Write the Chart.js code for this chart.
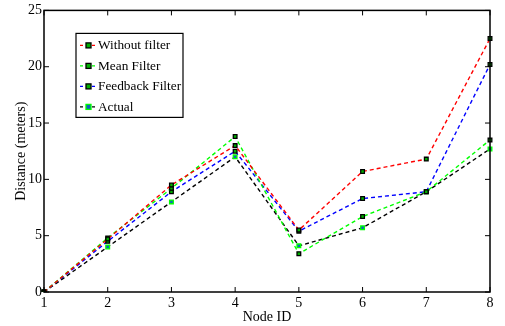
<!DOCTYPE html>
<html>
<head>
<meta charset="utf-8">
<script src="https://cdn.jsdelivr.net/npm/chart.js@4.4.0/dist/chart.umd.min.js"></script>
<style>
    html, body { margin: 0; padding: 0; background: #fff; }
    #wrap { width: 505px; height: 326px; }
</style>
</head>
<body>
<div id="wrap"><canvas id="chart"></canvas></div>
<script>
const nodeIds = ['1', '2', '3', '4', '5', '6', '7', '8'];
const withoutFilter = [0, 4.7, 9.5, 13.0, 5.5, 10.7, 11.8, 22.5];
const meanFilter = [0, 4.8, 9.2, 13.8, 3.4, 6.7, 8.9, 13.5];
const feedbackFilter = [0, 4.5, 8.9, 12.5, 5.4, 8.3, 8.9, 20.2];
const actual = [0, 4.0, 8.0, 12.0, 4.1, 5.7, 8.9, 12.7];
const yTicks = [0, 5, 10, 15, 20, 25];

const serif = 'Liberation Serif';

function makeSet(label, data, color, markerEdge, markerFill) {
    return {
        label: label,
        data: data,
        borderColor: color,
        borderWidth: 1.4,
        borderDash: [4, 3],
        pointStyle: 'rect',
        pointRadius: 2.6,
        pointBorderWidth: 1.3,
        pointBorderColor: markerEdge,
        pointBackgroundColor: markerFill,
        tension: 0,
        fill: false
    };
}

// frame, inward ticks and legend box like the matlab figure
const framePlugin = {
    id: 'frame',
    afterDatasetsDraw(chart) {
        const ctx = chart.ctx;
        const a = chart.chartArea;
        const xs = chart.scales.x;
        const ys = chart.scales.y;
        ctx.save();
        ctx.strokeStyle = '#000';
        ctx.lineWidth = 1.5;
        ctx.setLineDash([]);
        ctx.strokeRect(a.left, a.top, a.right - a.left, a.bottom - a.top);
        ctx.lineWidth = 1;
        const tl = 5;
        nodeIds.forEach((n, i) => {
            const x = xs.getPixelForValue(i);
            ctx.beginPath();
            ctx.moveTo(x, a.bottom); ctx.lineTo(x, a.bottom - tl);
            ctx.moveTo(x, a.top); ctx.lineTo(x, a.top + tl);
            ctx.stroke();
        });
        yTicks.forEach(v => {
            const y = ys.getPixelForValue(v);
            ctx.beginPath();
            ctx.moveTo(a.left, y); ctx.lineTo(a.left + tl, y);
            ctx.moveTo(a.right, y); ctx.lineTo(a.right - tl, y);
            ctx.stroke();
        });

        // legend
        const bx = a.left + 32, by = a.top + 23, bw = 107, bh = 84;
        ctx.fillStyle = '#fff';
        ctx.fillRect(bx, by, bw, bh);
        ctx.strokeStyle = '#000';
        ctx.lineWidth = 1.2;
        ctx.strokeRect(bx, by, bw, bh);
        ctx.font = '13.3px "' + serif + '"';
        ctx.textBaseline = 'middle';
        chart.data.datasets.forEach((ds, i) => {
            const y = by + 12 + i * 20.5;
            ctx.strokeStyle = ds.borderColor;
            ctx.lineWidth = 1.4;
            ctx.setLineDash([3, 3]);
            ctx.beginPath();
            ctx.moveTo(bx + 4, y); ctx.lineTo(bx + 21, y);
            ctx.stroke();
            ctx.setLineDash([]);
            ctx.fillStyle = ds.pointBackgroundColor;
            ctx.strokeStyle = ds.pointBorderColor;
            ctx.lineWidth = 1.3;
            ctx.fillRect(bx + 10, y - 2.5, 5, 5);
            ctx.strokeRect(bx + 10, y - 2.5, 5, 5);
            ctx.fillStyle = '#000';
            ctx.fillText(ds.label, bx + 22, y + 0.5);
        });
        ctx.restore();
    }
};

new Chart(document.getElementById('chart'), {
    type: 'line',
    data: {
        labels: nodeIds,
        datasets: [
            makeSet('Without filter', withoutFilter, '#ff0000', '#000', '#00b000'),
            makeSet('Mean Filter', meanFilter, '#00ff00', '#000', '#00b000'),
            makeSet('Feedback Filter', feedbackFilter, '#0000ff', '#000', '#00b000'),
            makeSet('Actual', actual, '#000000', '#00ff00', '#1060c0')
        ]
    },
    plugins: [framePlugin],
    options: {
        responsive: true,
        maintainAspectRatio: false,
        animation: false,
        layout: { padding: { top: 10, right: 15, left: 0, bottom: 0 } },
        plugins: {
            legend: { display: false },
            tooltip: { enabled: false }
        },
        scales: {
            x: {
                type: 'category',
                offset: false,
                grid: { display: false, drawTicks: false },
                border: { display: false },
                ticks: {
                    color: '#000',
                    padding: 3,
                    maxRotation: 0,
                    font: { family: serif, size: 14 }
                },
                title: {
                    display: true,
                    text: 'Node ID',
                    color: '#000',
                    padding: { top: 0, bottom: 0 },
                    font: { family: serif, size: 14 }
                },
                afterFit(scale) { scale.height = 34; }
            },
            y: {
                min: 0,
                max: 25,
                grid: { display: false, drawTicks: false },
                border: { display: false },
                afterBuildTicks(scale) {
                    scale.ticks = yTicks.map(v => ({ value: v }));
                },
                ticks: {
                    color: '#000',
                    padding: 2,
                    font: { family: serif, size: 14 }
                },
                title: {
                    display: true,
                    text: 'Distance (meters)',
                    color: '#000',
                    padding: { top: 13, bottom: 0 },
                    font: { family: serif, size: 14 }
                },
                afterFit(scale) { scale.width = 44; }
            }
        }
    }
});
</script>
</body>
</html>
